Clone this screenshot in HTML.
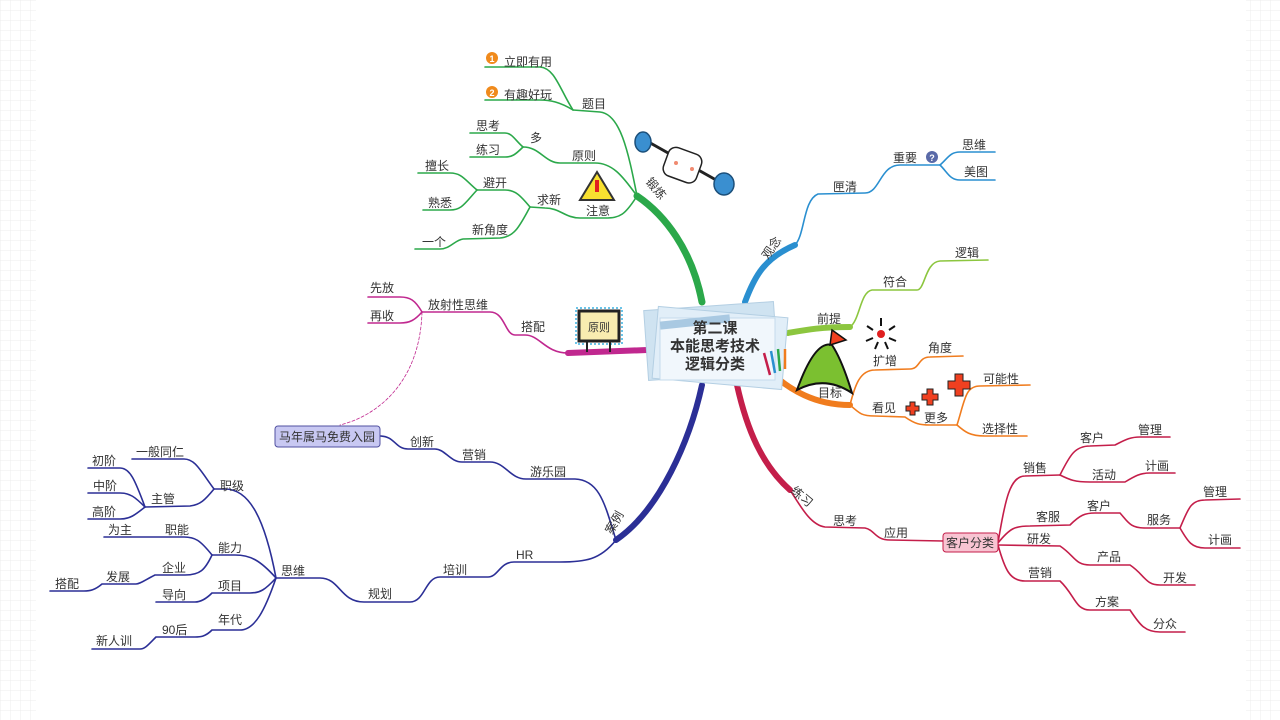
<!DOCTYPE html>
<html><head><meta charset="utf-8"><style>
html,body{margin:0;padding:0;background:#fff;}
svg{display:block;}
text{font-family:"Liberation Sans","Noto Sans CJK SC",sans-serif;font-size:12px;fill:#333;}
</style></head><body>
<svg width="1280" height="720" viewBox="0 0 1280 720" xmlns="http://www.w3.org/2000/svg">
<defs>
<pattern id="g" width="10" height="10" patternUnits="userSpaceOnUse"><path d="M10 0 L0 0 0 10" fill="none" stroke="#ececec" stroke-width="1"/></pattern>
</defs>
<rect x="0" y="0" width="36" height="720" fill="url(#g)"/>
<rect x="1246" y="0" width="34" height="720" fill="url(#g)"/>
<rect x="36" y="0" width="1210" height="720" fill="#fff"/>

<g fill="none" stroke-linecap="round">
<!-- green -->
<g stroke="#2ba84a" stroke-width="1.6">
<path d="M702 302 C692 250 665 215 637 196" stroke-width="7"/>
<path d="M637 196 C628 150 620 114 600 112 L573 110"/>
<path d="M573 110 C560 90 555 68 540 67 L485 67"/>
<path d="M573 110 C560 102 550 100 540 100 L485 100"/>
<path d="M637 196 C622 175 612 163 595 163 L560 163 C545 163 540 147 523 147"/>
<path d="M523 147 C515 140 512 133 505 133 L470 133"/>
<path d="M523 147 C515 155 512 157 505 157 L470 157"/>
<path d="M637 196 C625 215 620 218 605 218 L580 218 C565 218 560 208 545 208 L530 207"/>
<path d="M530 207 C520 195 515 190 505 190 L477 190"/>
<path d="M477 190 C465 180 462 173 450 173 L418 173"/>
<path d="M477 190 C465 203 462 210 450 210 L423 210"/>
<path d="M530 207 C520 225 515 237 500 238 L463 239 C455 240 450 249 440 249 L415 249"/>
</g>
<!-- blue -->
<g stroke="#2a8fd0" stroke-width="1.6">
<path d="M745 302 C755 275 765 258 795 245" stroke-width="6"/>
<path d="M795 245 C805 235 803 200 818 194 L865 193 C880 193 880 165 900 165 L940 165"/>
<path d="M940 165 C948 158 950 152 960 152 L995 152"/>
<path d="M940 165 C948 173 950 180 960 180 L995 180"/>
</g>
<!-- lime -->
<g stroke="#8cc63f" stroke-width="1.6">
<path d="M788 333 C805 330 820 327 850 327" stroke-width="6"/>
<path d="M850 327 C860 320 860 292 872 290 L917 290 C925 290 925 262 940 261 L988 260"/>
</g>
<!-- orange -->
<g stroke="#f07c1e" stroke-width="1.6">
<path d="M770 372 C790 390 815 405 850 405" stroke-width="6"/>
<path d="M850 405 C855 385 860 370 875 370 L910 369 C920 369 918 357 930 357 L963 356"/>
<path d="M850 405 C860 414 862 416 875 416 L905 417 C915 424 920 425 930 425 L957 425"/>
<path d="M957 425 C965 400 965 386 980 386 L1030 385"/>
<path d="M957 425 C965 432 970 436 985 436 L1027 436"/>
</g>
<!-- crimson -->
<g stroke="#c41e4a" stroke-width="1.6">
<path d="M737 385 C747 430 762 465 790 490" stroke-width="6"/>
<path d="M790 490 C800 505 810 525 825 527 L865 528 C875 530 875 540 890 540 L943 541"/>
<path d="M998 543 C1005 500 1010 476 1025 476 L1060 475"/>
<path d="M1060 475 C1070 455 1075 446 1090 446 L1115 445 C1125 440 1130 437 1140 437 L1170 437"/>
<path d="M1060 475 C1070 480 1075 482 1090 482 L1125 482 C1135 476 1140 473 1150 473 L1175 473"/>
<path d="M998 543 C1010 528 1015 526 1030 526 L1070 525 C1080 515 1085 513 1095 513 L1120 513 C1128 522 1130 528 1145 528 L1180 528"/>
<path d="M1180 528 C1188 510 1190 500 1205 500 L1240 499"/>
<path d="M1180 528 C1188 542 1192 548 1205 548 L1240 548"/>
<path d="M998 545 L1060 546 C1075 556 1075 565 1090 565 L1130 565 C1145 575 1145 585 1160 585 L1195 585"/>
<path d="M998 545 C1005 570 1010 581 1025 581 L1060 581 C1075 595 1075 610 1090 610 L1130 610 C1140 625 1145 632 1160 632 L1185 632"/>
</g>
<!-- navy -->
<g stroke="#2b2f96" stroke-width="1.6">
<path d="M702 385 C690 440 660 510 616 540" stroke-width="6"/>
<path d="M616 540 C605 505 600 480 575 479 L526 479 C510 479 505 462 490 462 L462 462 C450 462 445 449 435 449 L408 449 C395 449 395 436 380 436"/>
<path d="M616 540 C600 560 585 562 560 562 L514 562 C500 562 498 577 488 577 L440 577 C425 577 425 602 410 602 L364 602 C340 602 340 578 320 578 L276 578"/>
<path d="M276 578 C265 520 250 489 225 489 L214 489"/>
<path d="M214 489 C200 470 195 459 184 459 L132 459"/>
<path d="M214 489 C205 500 200 505 190 506 L145 507"/>
<path d="M145 507 C135 480 130 468 120 468 L88 468"/>
<path d="M145 507 C135 497 130 493 120 493 L88 493"/>
<path d="M145 507 C135 515 130 519 120 519 L88 519"/>
<path d="M276 578 C260 560 250 555 235 555 L212 555"/>
<path d="M212 555 C200 540 195 537 184 537 L104 537"/>
<path d="M212 555 C205 570 200 575 185 575 L155 575 C145 580 140 584 136 584 L102 584 C95 590 90 591 84 591 L50 591"/>
<path d="M276 578 C265 590 260 593 250 593 L212 593 C205 600 200 602 195 602 L156 602"/>
<path d="M276 578 C265 610 255 630 240 630 L212 630 C205 637 200 637 195 637 L156 637 C148 645 145 649 140 649 L92 649"/>
</g>
<!-- magenta -->
<g stroke="#c0288f" stroke-width="1.6">
<path d="M647 350 L568 353" stroke-width="6"/>
<path d="M568 353 C545 353 540 335 525 335 L515 335 C505 335 505 312 490 312 L422 312"/>
<path d="M422 312 C415 300 410 297 400 297 L368 297"/>
<path d="M422 312 C415 320 410 323 400 323 L368 323"/>
<path d="M422 312 C420 380 380 415 340 425" stroke-width="0.8" stroke-dasharray="3 2"/>
</g>
</g>

<!-- center card -->
<g>
<rect x="646" y="306" width="130" height="70" fill="#cfe3f1" stroke="#b4cfe3" transform="rotate(-4 711 341)"/>
<rect x="655" y="312" width="130" height="72" fill="#e1eef8" stroke="#b4cfe3" transform="rotate(5 720 348)"/>
<rect x="660" y="318" width="115" height="62" fill="#f1f7fc" stroke="#c5dbeb"/>
<rect x="660" y="318" width="70" height="8" fill="#a9c9e2" transform="rotate(-6 695 322)"/>
<g stroke-width="2.5"><path d="M770 375 l-6 -22" stroke="#c41e4a"/><path d="M775 373 l-4 -22" stroke="#2a8fd0"/><path d="M780 371 l-2 -22" stroke="#2ba84a"/><path d="M785 369 l0 -20" stroke="#f07c1e"/></g>
<text x="715" y="333" text-anchor="middle" style="font-size:15px;font-weight:bold">第二课</text>
<text x="715" y="351" text-anchor="middle" style="font-size:15px;font-weight:bold">本能思考技术</text>
<text x="715" y="369" text-anchor="middle" style="font-size:15px;font-weight:bold">逻辑分类</text>
</g>

<!-- icons -->
<circle cx="492" cy="58" r="6" fill="#f08a1c"/><text x="492" y="62" text-anchor="middle" style="font-size:9px;fill:#fff;font-weight:bold">1</text>
<circle cx="492" cy="92" r="6" fill="#f08a1c"/><text x="492" y="96" text-anchor="middle" style="font-size:9px;fill:#fff;font-weight:bold">2</text>
<circle cx="932" cy="157" r="6" fill="#5a6aa8"/><text x="932" y="161" text-anchor="middle" style="font-size:9px;fill:#fff;font-weight:bold">?</text>
<!-- weightlifter -->
<g>
<path d="M645 140 L725 185" stroke="#222" stroke-width="3"/>
<ellipse cx="643" cy="142" rx="8" ry="10" fill="#3a8fd0" stroke="#1b4f7a" stroke-width="1.5"/>
<ellipse cx="724" cy="184" rx="10" ry="11" fill="#3a8fd0" stroke="#1b4f7a" stroke-width="1.5"/>
<rect x="665" y="150" width="35" height="30" rx="8" fill="#fff" stroke="#222" stroke-width="1.5" transform="rotate(20 682 165)"/>
<circle cx="676" cy="163" r="2" fill="#f08a70"/><circle cx="692" cy="169" r="2" fill="#f08a70"/>
</g>
<!-- warning -->
<path d="M597 172 L614 200 L580 200 Z" fill="#f8e030" stroke="#333" stroke-width="2"/>
<rect x="595" y="180" width="4" height="12" fill="#e02020"/>
<!-- sign 原则 -->
<rect x="579" y="311" width="40" height="30" fill="#f8ecb0" stroke="#222" stroke-width="3"/>
<rect x="576" y="308" width="46" height="36" fill="none" stroke="#3ab0e0" stroke-width="1.5" stroke-dasharray="2 2"/>
<text x="599" y="331" text-anchor="middle" style="font-size:11px">原则</text>
<path d="M587 341 v11 M610 341 v11" stroke="#222" stroke-width="2"/>
<!-- mountain -->
<path d="M797 390 Q815 340 832 345 Q842 360 852 393 Q825 375 797 390 Z" fill="#7bc030" stroke="#111" stroke-width="2"/>
<path d="M830 345 L832 330 L846 340 Z" fill="#f04020" stroke="#111" stroke-width="1.5"/>
<!-- burst -->
<circle cx="881" cy="334" r="4" fill="#e02020"/>
<g stroke="#111" stroke-width="2"><path d="M881 326 v-8 M873 330 l-6 -4 M889 330 l6 -4 M873 338 l-7 3 M889 338 l7 3 M878 342 l-3 7 M885 342 l3 7"/></g>
<!-- plus -->
<g fill="#f04020" stroke="#222" stroke-width="1">
<path d="M910 402 h5 v4 h4 v5 h-4 v4 h-5 v-4 h-4 v-5 h4 z"/>
<path d="M927 389 h6 v5 h5 v6 h-5 v5 h-6 v-5 h-5 v-6 h5 z"/>
<path d="M955 374 h8 v7 h7 v8 h-7 v7 h-8 v-7 h-7 v-8 h7 z"/>
</g>

<!-- boxes -->
<rect x="943" y="533" width="55" height="19" rx="3" fill="#f8c4d2" stroke="#c41e4a"/>
<text x="970" y="547" text-anchor="middle">客户分类</text>
<rect x="275" y="426" width="105" height="21" rx="3" fill="#c8c8f2" stroke="#5050a0"/>
<text x="327" y="441" text-anchor="middle">马年属马免费入园</text>

<!-- labels -->
<text x="504" y="66">立即有用</text><text x="504" y="99">有趣好玩</text>
<text x="582" y="108">题目</text><text x="476" y="130">思考</text><text x="476" y="154">练习</text>
<text x="530" y="142">多</text><text x="572" y="160">原则</text><text x="425" y="170">擅长</text>
<text x="428" y="207">熟悉</text><text x="483" y="187">避开</text><text x="537" y="204">求新</text>
<text x="586" y="215">注意</text><text x="472" y="234">新角度</text><text x="422" y="246">一个</text>
<text x="0" y="0" transform="translate(645,182) rotate(50)">锻炼</text>
<text x="0" y="0" transform="translate(768,260) rotate(-55)">观念</text>
<text x="833" y="191">匣清</text><text x="893" y="162">重要</text><text x="962" y="149">思维</text><text x="964" y="176">美图</text>
<text x="817" y="323">前提</text><text x="883" y="286">符合</text><text x="955" y="257">逻辑</text>
<text x="818" y="397">目标</text><text x="873" y="365">扩增</text><text x="928" y="352">角度</text>
<text x="872" y="412">看见</text><text x="924" y="422">更多</text><text x="983" y="383">可能性</text><text x="982" y="433">选择性</text>
<text x="0" y="0" transform="translate(790,492) rotate(40)">练习</text>
<text x="833" y="525">思考</text><text x="884" y="537">应用</text>
<text x="1023" y="472">销售</text><text x="1080" y="442">客户</text><text x="1138" y="434">管理</text>
<text x="1092" y="479">活动</text><text x="1145" y="470">计画</text>
<text x="1036" y="521">客服</text><text x="1087" y="510">客户</text><text x="1147" y="524">服务</text>
<text x="1203" y="496">管理</text><text x="1208" y="544">计画</text>
<text x="1027" y="543">研发</text><text x="1097" y="561">产品</text><text x="1163" y="582">开发</text>
<text x="1028" y="577">营销</text><text x="1095" y="606">方案</text><text x="1153" y="628">分众</text>
<text x="410" y="446">创新</text><text x="462" y="459">营销</text><text x="530" y="476">游乐园</text>
<text x="0" y="0" transform="translate(612,535) rotate(-60)">案例</text>
<text x="516" y="559">HR</text><text x="443" y="574">培训</text><text x="368" y="598">规划</text>
<text x="281" y="575">思维</text><text x="220" y="490">职级</text><text x="136" y="456">一般同仁</text>
<text x="92" y="465">初阶</text><text x="93" y="490">中阶</text><text x="92" y="516">高阶</text>
<text x="151" y="503">主管</text><text x="108" y="534">为主</text><text x="165" y="534">职能</text>
<text x="218" y="552">能力</text><text x="162" y="572">企业</text><text x="106" y="581">发展</text>
<text x="55" y="588">搭配</text><text x="162" y="599">导向</text><text x="218" y="590">项目</text>
<text x="218" y="624">年代</text><text x="162" y="634">90后</text><text x="96" y="645">新人训</text>
<text x="370" y="292">先放</text><text x="370" y="320">再收</text><text x="428" y="309">放射性思维</text><text x="521" y="331">搭配</text>
</svg>
</body></html>
